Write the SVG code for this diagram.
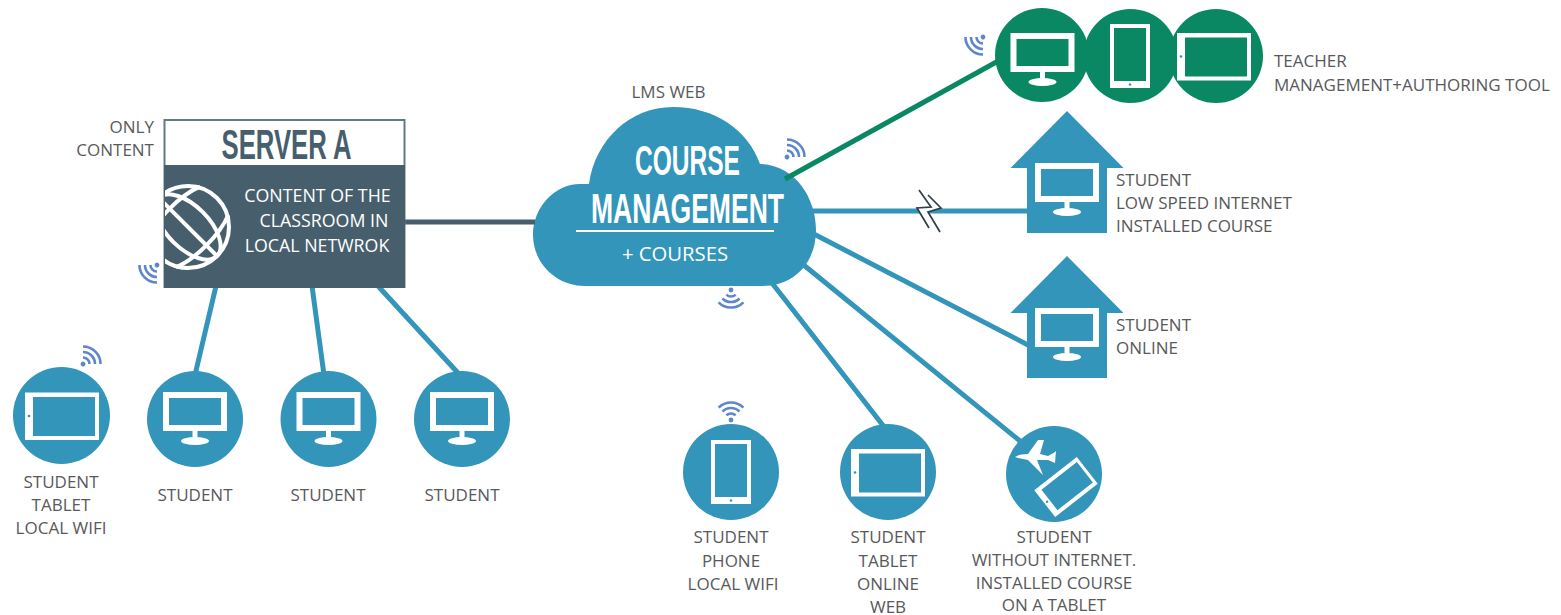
<svg xmlns="http://www.w3.org/2000/svg" width="1561" height="615" viewBox="0 0 1561 615">
<style>
.t{font-family:"Open Sans","Liberation Sans",sans-serif;font-size:17px;fill:#58595b}
.m{text-anchor:middle}.e{text-anchor:end}
.w{fill:#fff}
.b{fill:#3395b9}.g{fill:#0a8864}
.l{stroke:#3395b9;stroke-width:5;fill:none}
.wf{fill:none;stroke:#5f86cc;stroke-width:2.600}
.h{font-family:"Liberation Sans Narrow","Liberation Sans",sans-serif;font-weight:700;text-anchor:middle}
.s{font-size:17.800px;fill:#fff}
</style>
<defs>
<g id="mon"><path class="w" fill-rule="evenodd" d="M-32-27H32V12H-32ZM-26-21V6H26V-21Z"/><rect class="w" x="-2.500" y="12" width="5" height="6"/><ellipse class="w" cx="0" cy="22" rx="14" ry="4"/></g>
<g id="tab"><path class="w" fill-rule="evenodd" d="M-36.500-23H37.500V24.500H-36.500ZM-28.500-18.500V20.500H33.500V-18.500Z"/><circle cx="-32.500" cy="0.500" r="1.300" class="b"/></g>
<g id="pho"><path class="w" fill-rule="evenodd" d="M-20-32H20V32H-20ZM-16-28V25H16V-28Z"/><circle cx="0" cy="28.500" r="1.300" class="b"/></g>
<g id="wifi"><circle r="2.400" fill="#5f86cc"/><path class="wf" d="M-4.600-4.600A6.500 6.500 0 0 1 4.600-4.600M-8.500-8.500A12 12 0 0 1 8.500-8.500M-12.400-12.400A17.500 17.500 0 0 1 12.400-12.400"/></g>
<path id="house" class="b" d="M0 0L56.500 57H40V122H-40V57H-56.500Z"/>
<clipPath id="gc"><rect x="165" y="170" width="80" height="110"/></clipPath>
</defs>
<g id="cloud">
<path class="b" d="M585 286C555 286 533 262 533 235C533 207 555 184 580 184L589 184C595 140 630 107 673 107C715 107 748 130 760 164C795 165 816 198 816 230C816 262 795 286 762 286Z"/>
<text class="h" x="687.500" y="175" font-size="42" fill="#fff" textLength="105" lengthAdjust="spacingAndGlyphs">COURSE</text>
<text class="h" x="687.500" y="223" font-size="43" fill="#fff" textLength="193" lengthAdjust="spacingAndGlyphs">MANAGEMENT</text>
<rect x="576" y="230" width="198" height="2" fill="#fff"/>
<text class="t m" x="675" y="261" style="fill:#fff;font-size:20.300px">+ COURSES</text>
<text class="t m" x="668.500" y="98">LMS WEB</text>
<use href="#wifi" transform="translate(787 157) rotate(45)"/>
<use href="#wifi" transform="translate(731 290) rotate(180)"/>
</g>
<g id="connectors">
<path d="M400 222H535" stroke="#475f6d" stroke-width="5" fill="none"/>
<path d="M785 179L1000 60" stroke="#0a8864" stroke-width="5" fill="none"/>
<path class="l" d="M216 286L195 375M312 286L324 375M378 286L458 373M810 211H1030M810 232L1030 346M800 262L1020 441M772 283L885 428"/>
<path d="M917 208L931 207L941 208L928 212L940 232L929 228Z" fill="#fff"/>
<path d="M919 190L931 207L917 208L929 228M928 195L941 208L928 212L940 232" fill="none" stroke="#2f3e48" stroke-width="1.700"/>
</g>
<g id="server-a">
<rect x="164.500" y="120" width="240" height="167" fill="#fff" stroke="#5f7b89" stroke-width="2"/>
<rect x="164" y="165" width="241" height="123" fill="#475f6d"/>
<text class="h" x="286.500" y="159" font-size="43" fill="#475f6d" textLength="130" lengthAdjust="spacingAndGlyphs">SERVER A</text>
<g fill="none" stroke="#fff" stroke-width="4" clip-path="url(#gc)"><circle cx="188" cy="227" r="41"/><g transform="rotate(45 188 227)"><ellipse cx="188" cy="227" rx="41" ry="21"/><path d="M147 227H229"/><path d="M168 190C160 210 160 244 168 264"/><path d="M208 190C216 210 216 244 208 264"/></g></g>
<text class="t m s" x="317.500" y="202" style="fill:#fff">CONTENT OF THE</text>
<text class="t m s" x="324" y="227" style="fill:#fff">CLASSROOM IN</text>
<text class="t m s" x="317" y="252" style="fill:#fff">LOCAL NETWROK</text>
<text class="t e" x="154" y="133">ONLY</text>
<text class="t e" x="154" y="156">CONTENT</text>
<use href="#wifi" transform="translate(157 265) rotate(225)"/>
</g>
<g id="teacher">
<circle class="g" cx="1042" cy="55" r="47"/><circle class="g" cx="1130.500" cy="56" r="47"/><circle class="g" cx="1216" cy="56" r="47"/>
<use href="#mon" transform="translate(1042.500 60)"/><use href="#pho" transform="translate(1130 56)"/><use href="#tab" transform="translate(1213.500 56)"/>
<use href="#wifi" transform="translate(983 37) rotate(225)"/>
<text class="t" x="1274" y="67">TEACHER</text><text class="t" x="1274" y="91">MANAGEMENT+AUTHORING TOOL</text>
</g>
<g id="student-low"><use href="#house" transform="translate(1067 111)"/><use href="#mon" transform="translate(1067 190)"/>
<text class="t" x="1116" y="186">STUDENT</text><text class="t" x="1116" y="209">LOW SPEED INTERNET</text><text class="t" x="1116" y="232">INSTALLED COURSE</text></g>
<g id="student-online"><use href="#house" transform="translate(1067 256)"/><use href="#mon" transform="translate(1067 335)"/>
<text class="t" x="1116" y="331">STUDENT</text><text class="t" x="1116" y="354">ONLINE</text></g>
<g id="student-tablet-wifi"><circle class="b" cx="61.500" cy="415.500" r="48.500"/><use href="#tab" transform="translate(61.500 415.500)"/><use href="#wifi" transform="translate(83 364) rotate(45)"/>
<text class="t m" x="61" y="488">STUDENT</text><text class="t m" x="61" y="511">TABLET</text><text class="t m" x="61" y="534">LOCAL WIFI</text></g>
<g id="student-1"><circle class="b" cx="195" cy="419" r="48"/><use href="#mon" transform="translate(195 419)"/><text class="t m" x="195" y="501">STUDENT</text></g>
<g id="student-2"><circle class="b" cx="328.500" cy="419" r="48"/><use href="#mon" transform="translate(328.500 419)"/><text class="t m" x="328" y="501">STUDENT</text></g>
<g id="student-3"><circle class="b" cx="462" cy="419" r="48"/><use href="#mon" transform="translate(462 419)"/><text class="t m" x="462" y="501">STUDENT</text></g>
<g id="student-phone"><circle class="b" cx="731" cy="472" r="48"/><use href="#pho" transform="translate(731 472)"/><use href="#wifi" transform="translate(731 420)"/>
<text class="t m" x="731" y="543">STUDENT</text><text class="t m" x="731" y="567">PHONE</text><text class="t m" x="733" y="590">LOCAL WIFI</text></g>
<g id="student-tablet-web"><circle class="b" cx="888" cy="472" r="48"/><use href="#tab" transform="translate(887.500 472)"/>
<text class="t m" x="888" y="543">STUDENT</text><text class="t m" x="888" y="567">TABLET</text><text class="t m" x="888" y="590">ONLINE</text><text class="t m" x="888" y="613">WEB</text></g>
<g id="student-offline"><circle class="b" cx="1054" cy="474" r="48"/>
<g transform="translate(1066 487) rotate(-38)"><path class="w" fill-rule="evenodd" d="M-27-17H27V17H-27ZM-21-13V13H24V-13Z"/><circle cx="-24" cy="0" r="1.200" class="b"/></g>
<path class="w" d="M1015 457C1018 455 1023 454 1028 454L1038 440L1044 440L1040 454L1048 456L1054 452.700L1056 451L1055 463L1048 460L1037 460L1043 475L1028 460L1018 458Z"/>
<text class="t m" x="1054" y="543">STUDENT</text><text class="t m" x="1054" y="566">WITHOUT INTERNET.</text><text class="t m" x="1054" y="589">INSTALLED COURSE</text><text class="t m" x="1054" y="611">ON A TABLET</text></g>
</svg>
